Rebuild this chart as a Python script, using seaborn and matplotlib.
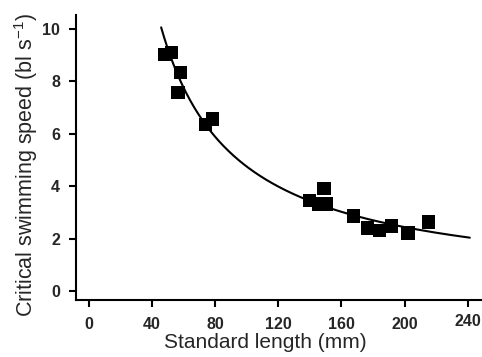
import numpy as np
import pandas as pd
import matplotlib
matplotlib.use("Agg")
import matplotlib.pyplot as plt
from matplotlib.transforms import ScaledTranslation
import seaborn as sns

# Standard length (mm) and critical swimming speed (bl s-1)
length_mm = [48, 52.4, 58.1, 56.6, 73.9, 78.4, 140, 145.5, 150.8, 149,
             167.4, 176.3, 184, 191.6, 202.2, 215.3]
ucrit = [9.03, 9.11, 8.35, 7.57, 6.34, 6.56, 3.45, 3.32, 3.32, 3.9,
         2.86, 2.40, 2.32, 2.48, 2.21, 2.63]
fit_range = [45.9, 241.3]  # extent of the fitted curve

x_ticks = [0, 40, 80, 120, 160, 200, 240]
y_ticks = [0, 2, 4, 6, 8, 10]

df = pd.DataFrame({"length": length_mm, "ucrit": ucrit})

# power-law fit  Ucrit = a * L^b  (least squares in log-log space)
b, log_a = np.polyfit(np.log(df["length"]), np.log(df["ucrit"]), 1)
xs = np.linspace(fit_range[0], fit_range[1], 300)
fit = pd.DataFrame({"length": xs, "ucrit": np.exp(log_a) * xs ** b})

sns.set_style("ticks")
plt.rcParams["font.family"] = ["Liberation Sans", "DejaVu Sans"]
plt.rcParams["mathtext.default"] = "regular"

fig = plt.figure(figsize=(4.82, 3.57), dpi=100)
ax = fig.add_axes([0.158, 0.16, 0.842, 0.798])

sns.lineplot(data=fit, x="length", y="ucrit", color="black", linewidth=1.5, ax=ax)
sns.scatterplot(data=df, x="length", y="ucrit", marker="s", s=90, color="black",
                edgecolor="none", ax=ax, zorder=3)

ax.set_xlim(-7.9, 249)
ax.set_ylim(-0.34, 10.53)
ax.set_xticks(x_ticks)
ax.set_yticks(y_ticks)
ax.set_xlabel("Standard length (mm)", fontsize=15)
ax.set_ylabel("Critical swimming speed (bl s$^{\u22121}$)", fontsize=15.5)
ax.xaxis.set_label_coords((265 - 76) / 406, -0.118)
ax.yaxis.set_label_coords(-0.088, (300 - 165.5) / 285)

sns.despine(ax=ax)
for s in ["left", "bottom"]:
    ax.spines[s].set_linewidth(1.5)
    ax.spines[s].set_color("black")
ax.tick_params(axis="both", length=5, width=1.5, color="black", labelsize=11.5)
ax.tick_params(axis="x", pad=7.5)
ax.tick_params(axis="y", pad=6.5)
for lab in ax.get_xticklabels() + ax.get_yticklabels():
    lab.set_fontweight("bold")

# the last x tick label sits a little higher in the original
last = ax.xaxis.get_major_ticks()[-1].label1
last.set_transform(last.get_transform() + ScaledTranslation(0, 3 / 100, fig.dpi_scale_trans))

fig.savefig("out.png", dpi=100)
